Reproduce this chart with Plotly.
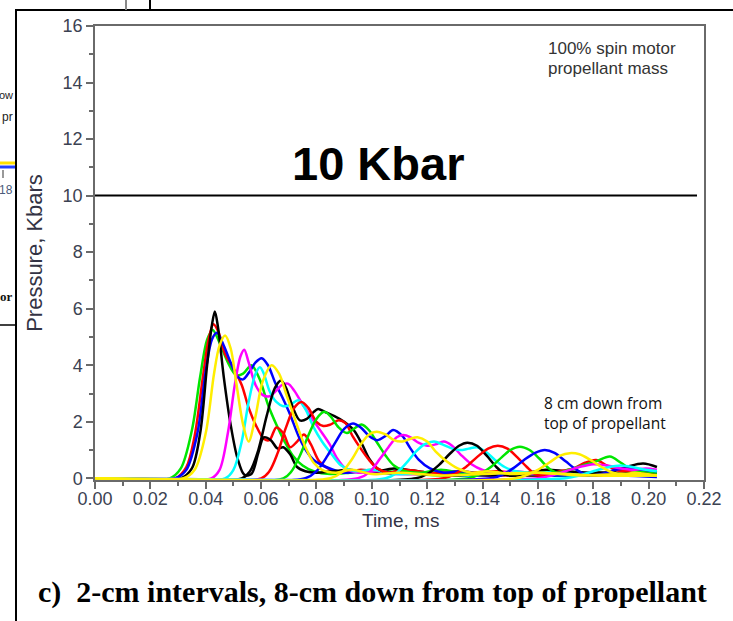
import plotly.graph_objects as go

# ---------------- data (time in ms, pressure in kbar) ----------------
g01_time = [0, 0.027, 0.031, 0.035, 0.038, 0.0405, 0.0425, 0.0450, 0.0480, 0.0510, 0.0535, 0.0565, 0.0595, 0.0625, 0.0655, 0.0685, 0.0715, 0.0750, 0.0790, 0.0850, 0.0920, 0.1000, 0.1100, 0.1250, 0.1400, 0.1600, 0.1800, 0.2030]
g01_kbar = [0, 0, 0.35, 1.7, 3.6, 4.9, 5.25, 4.8, 4.1, 3.65, 3.7, 4.0, 3.5, 2.6, 1.9, 1.3, 0.8, 0.45, 0.25, 0.15, 0.2, 0.3, 0.2, 0.1, 0.15, 0.1, 0.15, 0.1]

g02_time = [0, 0.029, 0.033, 0.036, 0.039, 0.041, 0.0428, 0.0445, 0.047, 0.050, 0.053, 0.0555, 0.058, 0.061, 0.063, 0.0655, 0.068, 0.0705, 0.073, 0.0755, 0.078, 0.081, 0.085, 0.090, 0.096, 0.105, 0.115, 0.130, 0.150, 0.170, 0.190, 0.203]
g02_kbar = [0, 0, 0.4, 1.5, 3.6, 4.9, 5.45, 5.2, 4.4, 3.9, 3.3, 2.5, 1.9, 1.4, 1.35, 1.8, 1.6, 1.1, 1.3, 1.55, 1.2, 0.6, 0.3, 0.2, 0.3, 0.2, 0.15, 0.25, 0.1, 0.15, 0.1, 0.1]

g03_time = [0, 0.031, 0.035, 0.038, 0.0405, 0.0422, 0.0433, 0.0445, 0.0465, 0.049, 0.0515, 0.054, 0.0565, 0.0590, 0.061, 0.0635, 0.066, 0.068, 0.0705, 0.073, 0.076, 0.080, 0.086, 0.092, 0.100, 0.108, 0.118, 0.130, 0.145, 0.160, 0.180, 0.203]
g03_kbar = [0, 0, 0.35, 1.6, 4.0, 5.4, 5.9, 5.3, 3.6, 1.9, 0.7, 0.12, 0.15, 0.9, 1.45, 1.35, 1.05, 1.1, 0.85, 0.4, 0.25, 0.2, 0.25, 0.3, 0.2, 0.35, 0.2, 0.1, 0.15, 0.1, 0.2, 0.15]

g04_time = [0, 0.029, 0.033, 0.037, 0.040, 0.0422, 0.044, 0.0465, 0.049, 0.0515, 0.0535, 0.056, 0.058, 0.0602, 0.0625, 0.065, 0.0675, 0.0705, 0.0735, 0.0765, 0.079, 0.0835, 0.090, 0.098, 0.108, 0.120, 0.135, 0.150, 0.170, 0.190, 0.203]
g04_kbar = [0, 0, 0.3, 1.6, 3.8, 4.9, 5.15, 4.7, 4.1, 3.6, 3.5, 3.8, 4.1, 4.25, 4.0, 3.4, 2.9, 2.25, 1.5, 0.95, 0.65, 0.4, 0.2, 0.25, 0.15, 0.2, 0.1, 0.15, 0.1, 0.1, 0.05]

g05_time = [0, 0.032, 0.036, 0.040, 0.043, 0.045, 0.047, 0.049, 0.051, 0.0535, 0.0555, 0.058, 0.0605, 0.0638, 0.0665, 0.069, 0.0715, 0.074, 0.0765, 0.079, 0.082, 0.087, 0.093, 0.100, 0.110, 0.125, 0.140, 0.160, 0.180, 0.203]
g05_kbar = [0, 0, 0.3, 1.6, 3.7, 4.7, 5.05, 4.6, 3.4, 1.9, 1.3, 2.2, 3.4, 4.0, 3.7, 3.0, 2.3, 1.6, 1.0, 0.55, 0.3, 0.2, 0.3, 0.15, 0.2, 0.1, 0.15, 0.2, 0.1, 0.1]

g06_time = [0, 0.042, 0.045, 0.048, 0.0505, 0.0525, 0.0539, 0.0555, 0.058, 0.0605, 0.063, 0.0655, 0.0675, 0.0697, 0.072, 0.0745, 0.0775, 0.081, 0.0848, 0.0875, 0.0905, 0.095, 0.102, 0.112, 0.125, 0.140, 0.160, 0.180, 0.203]
g06_kbar = [0, 0, 0.3, 1.6, 3.3, 4.3, 4.55, 4.1, 3.3, 2.95, 2.9, 3.1, 3.3, 3.35, 3.1, 2.7, 2.25, 1.75, 1.2, 0.7, 0.35, 0.2, 0.25, 0.15, 0.2, 0.1, 0.15, 0.1, 0.1]

g07_time = [0, 0.047, 0.050, 0.053, 0.0555, 0.058, 0.0596, 0.061, 0.063, 0.0655, 0.068, 0.0705, 0.0734, 0.076, 0.079, 0.082, 0.0855, 0.089, 0.094, 0.100, 0.110, 0.122, 0.135, 0.150, 0.170, 0.190, 0.203]
g07_kbar = [0, 0, 0.3, 1.3, 2.7, 3.7, 3.93, 3.7, 3.1, 2.7, 2.55, 2.6, 2.76, 2.45, 1.8, 1.3, 0.85, 0.45, 0.25, 0.3, 0.15, 0.2, 0.1, 0.15, 0.1, 0.15, 0.1]

g08_time = [0, 0.053, 0.056, 0.059, 0.062, 0.065, 0.0672, 0.069, 0.0715, 0.074, 0.0765, 0.079, 0.0806, 0.083, 0.0865, 0.090, 0.0935, 0.0965, 0.099, 0.102, 0.106, 0.112, 0.120, 0.130, 0.145, 0.160, 0.180, 0.203]
g08_kbar = [0, 0, 0.25, 1.0, 2.2, 3.2, 3.46, 3.2, 2.5, 2.05, 2.1, 2.35, 2.45, 2.35, 2.2, 2.0, 1.7, 1.2, 0.7, 0.35, 0.2, 0.3, 0.2, 0.15, 0.1, 0.2, 0.1, 0.1]

g09_time = [0, 0.060, 0.063, 0.066, 0.069, 0.072, 0.0746, 0.077, 0.080, 0.0825, 0.085, 0.088, 0.0905, 0.093, 0.096, 0.099, 0.102, 0.106, 0.112, 0.120, 0.130, 0.145, 0.160, 0.180, 0.203]
g09_kbar = [0, 0, 0.25, 0.9, 1.8, 2.5, 2.7, 2.5, 2.0, 1.85, 1.9, 2.05, 1.95, 1.5, 1.05, 0.65, 0.35, 0.2, 0.3, 0.2, 0.15, 0.25, 0.1, 0.15, 0.1]

g10_time = [0, 0.068, 0.071, 0.074, 0.077, 0.080, 0.0828, 0.085, 0.088, 0.091, 0.0935, 0.0963, 0.099, 0.102, 0.105, 0.108, 0.112, 0.118, 0.125, 0.135, 0.150, 0.165, 0.185, 0.203]
g10_kbar = [0, 0, 0.25, 0.8, 1.5, 2.1, 2.35, 2.2, 1.8, 1.6, 1.75, 1.9, 1.7, 1.25, 0.8, 0.45, 0.25, 0.2, 0.3, 0.15, 0.2, 0.1, 0.15, 0.1]

g11_time = [0, 0.076, 0.080, 0.084, 0.087, 0.090, 0.0932, 0.096, 0.099, 0.102, 0.105, 0.1077, 0.111, 0.114, 0.117, 0.121, 0.126, 0.132, 0.140, 0.150, 0.165, 0.185, 0.203]
g11_kbar = [0, 0, 0.25, 0.8, 1.3, 1.75, 1.94, 1.8, 1.5, 1.35, 1.5, 1.71, 1.5, 1.05, 0.65, 0.35, 0.2, 0.25, 0.15, 0.2, 0.1, 0.15, 0.1]

g12_time = [0, 0.085, 0.089, 0.093, 0.096, 0.099, 0.1017, 0.105, 0.108, 0.111, 0.114, 0.1165, 0.120, 0.123, 0.127, 0.131, 0.136, 0.142, 0.150, 0.160, 0.175, 0.190, 0.203]
g12_kbar = [0, 0, 0.2, 0.7, 1.2, 1.55, 1.65, 1.55, 1.35, 1.3, 1.4, 1.45, 1.3, 0.95, 0.6, 0.35, 0.2, 0.25, 0.15, 0.2, 0.1, 0.15, 0.1]

g13_time = [0, 0.095, 0.099, 0.103, 0.106, 0.109, 0.1113, 0.114, 0.117, 0.120, 0.123, 0.126, 0.129, 0.132, 0.136, 0.140, 0.145, 0.152, 0.160, 0.170, 0.185, 0.203]
g13_kbar = [0, 0, 0.2, 0.7, 1.1, 1.45, 1.53, 1.45, 1.25, 1.15, 1.2, 1.3, 1.15, 0.85, 0.5, 0.3, 0.2, 0.25, 0.15, 0.2, 0.1, 0.1]

g14_time = [0, 0.105, 0.109, 0.113, 0.116, 0.119, 0.1225, 0.1255, 0.129, 0.132, 0.135, 0.138, 0.141, 0.1445, 0.148, 0.152, 0.158, 0.165, 0.175, 0.190, 0.203]
g14_kbar = [0, 0, 0.2, 0.6, 0.95, 1.2, 1.3, 1.2, 1.05, 1.0, 1.05, 1.1, 0.95, 0.65, 0.4, 0.25, 0.2, 0.25, 0.15, 0.1, 0.1]

g15_time = [0, 0.116, 0.120, 0.124, 0.128, 0.1315, 0.1345, 0.138, 0.1415, 0.145, 0.1485, 0.152, 0.157, 0.163, 0.170, 0.178, 0.185, 0.192, 0.198, 0.203]
g15_kbar = [0, 0, 0.15, 0.45, 0.85, 1.15, 1.26, 1.15, 0.8, 0.4, 0.12, 0.1, 0.2, 0.3, 0.25, 0.2, 0.2, 0.4, 0.52, 0.4]

g16_time = [0, 0.126, 0.130, 0.134, 0.138, 0.142, 0.1455, 0.149, 0.1525, 0.156, 0.159, 0.163, 0.168, 0.173, 0.177, 0.181, 0.185, 0.190, 0.196, 0.203]
g16_kbar = [0, 0, 0.15, 0.4, 0.75, 1.05, 1.15, 1.05, 0.75, 0.4, 0.15, 0.1, 0.25, 0.35, 0.55, 0.65, 0.45, 0.25, 0.3, 0.2]

g17_time = [0, 0.135, 0.139, 0.143, 0.147, 0.150, 0.1535, 0.157, 0.1605, 0.164, 0.167, 0.171, 0.176, 0.181, 0.186, 0.190, 0.194, 0.199, 0.203]
g17_kbar = [0, 0, 0.15, 0.4, 0.75, 1.0, 1.12, 1.0, 0.7, 0.35, 0.2, 0.3, 0.45, 0.6, 0.77, 0.55, 0.3, 0.25, 0.2]

g18_time = [0, 0.143, 0.147, 0.151, 0.155, 0.159, 0.1625, 0.166, 0.170, 0.174, 0.178, 0.183, 0.188, 0.193, 0.198, 0.203]
g18_kbar = [0, 0, 0.12, 0.35, 0.65, 0.9, 1.0, 0.9, 0.6, 0.3, 0.1, 0.15, 0.3, 0.35, 0.3, 0.25]

g19_time = [0, 0.152, 0.156, 0.160, 0.164, 0.168, 0.1715, 0.175, 0.179, 0.183, 0.187, 0.191, 0.195, 0.199, 0.203]
g19_kbar = [0, 0, 0.12, 0.3, 0.55, 0.8, 0.89, 0.85, 0.65, 0.4, 0.2, 0.15, 0.2, 0.15, 0.1]

g20_time = [0, 0.160, 0.165, 0.170, 0.175, 0.180, 0.185, 0.190, 0.195, 0.199, 0.203]
g20_kbar = [0, 0, 0.1, 0.25, 0.4, 0.5, 0.45, 0.35, 0.3, 0.35, 0.3]

g21_time = [0, 0.170, 0.175, 0.180, 0.185, 0.190, 0.195, 0.199, 0.203]
g21_kbar = [0, 0, 0.1, 0.25, 0.38, 0.45, 0.38, 0.3, 0.25]

x_tick_values = [0.00, 0.02, 0.04, 0.06, 0.08, 0.10, 0.12, 0.14, 0.16, 0.18, 0.20, 0.22]
y_tick_values = [0, 2, 4, 6, 8, 10, 12, 14, 16]
threshold_kbar = 10

# ---------------- styles ----------------
BLACK, RED, GREEN, BLUE = "#000000", "#ff0000", "#00e600", "#0000ff"
YELLOW, MAGENTA, CYAN = "#ffee00", "#ff00ff", "#00ffff"

series = [
    (g01_time, g01_kbar, GREEN), (g02_time, g02_kbar, RED), (g04_time, g04_kbar, BLUE),
    (g03_time, g03_kbar, BLACK), (g06_time, g06_kbar, MAGENTA), (g07_time, g07_kbar, CYAN),
    (g08_time, g08_kbar, BLACK), (g09_time, g09_kbar, RED), (g10_time, g10_kbar, GREEN),
    (g11_time, g11_kbar, BLUE), (g13_time, g13_kbar, MAGENTA), (g14_time, g14_kbar, CYAN),
    (g15_time, g15_kbar, BLACK), (g16_time, g16_kbar, RED), (g17_time, g17_kbar, GREEN),
    (g18_time, g18_kbar, BLUE), (g20_time, g20_kbar, MAGENTA), (g21_time, g21_kbar, CYAN),
    (g12_time, g12_kbar, YELLOW), (g19_time, g19_kbar, YELLOW), (g05_time, g05_kbar, YELLOW),
]

W, H = 733, 621
L, R, T, B = 95, 704, 26, 480  # plot area in pixels


def px(x):
    return (x - L) / (R - L)


def py(y):
    return (B - y) / (B - T)


fig = go.Figure()
for t, p, c in series:
    fig.add_trace(go.Scatter(x=t, y=p, mode="lines",
                             line=dict(color=c, width=2.5, shape="spline", smoothing=0.9),
                             showlegend=False, hoverinfo="skip"))

AX = "#6a6a6a"
TICKFONT = dict(family="Liberation Sans, Arial", size=18, color="#3b4252")

fig.update_layout(
    width=W, height=H,
    margin=dict(l=L, r=W - R, t=T, b=H - B),
    paper_bgcolor="white", plot_bgcolor="white",
    showlegend=False,
    xaxis=dict(range=[0, 0.22], tickvals=x_tick_values, tickformat=".2f",
               ticks="outside", ticklen=7, tickwidth=1.5, tickcolor=AX,
               showline=True, linecolor=AX, linewidth=1.5, mirror=True,
               showgrid=False, zeroline=False,
               minor=dict(dtick=0.01, tick0=0, ticks="outside", ticklen=4, tickwidth=1.5,
                          tickcolor=AX, showgrid=False),
               tickfont=TICKFONT, ticklabelstandoff=-5),
    yaxis=dict(range=[-0.06, 16], tickvals=y_tick_values,
               ticks="outside", ticklen=7, tickwidth=1.5, tickcolor=AX,
               showline=True, linecolor=AX, linewidth=1.5, mirror=True,
               showgrid=False, zeroline=False,
               minor=dict(dtick=1, tick0=0, ticks="outside", ticklen=4, tickwidth=1.5,
                          tickcolor=AX, showgrid=False),
               tickfont=TICKFONT,
               title=dict(text="Pressure, Kbars", standoff=14,
                          font=dict(family="Liberation Sans, Arial", size=22, color="#333344"))),
)

shapes = [
    # 10 kbar threshold line
    dict(type="line", xref="paper", yref="y", x0=0, x1=px(697), y0=threshold_kbar, y1=threshold_kbar,
         line=dict(color="black", width=2)),
    # document frame
    dict(type="line", xref="paper", yref="paper", x0=px(16), x1=px(16), y0=py(10), y1=py(625),
         line=dict(color="black", width=2)),
    dict(type="line", xref="paper", yref="paper", x0=px(15), x1=px(735), y0=py(10), y1=py(10),
         line=dict(color="black", width=2)),
    dict(type="line", xref="paper", yref="paper", x0=px(126), x1=px(126), y0=py(-2), y1=py(10),
         line=dict(color="#888888", width=2)),
    dict(type="line", xref="paper", yref="paper", x0=px(150), x1=px(150), y0=py(-2), y1=py(10),
         line=dict(color="black", width=2)),
    dict(type="line", xref="paper", yref="paper", x0=px(-2), x1=px(16), y0=py(325), y1=py(325),
         line=dict(color="black", width=1.5)),
    # fragments of a neighbouring chart
    dict(type="line", xref="paper", yref="paper", x0=px(-2), x1=px(15), y0=py(163), y1=py(163),
         line=dict(color="#ffe000", width=3)),
    dict(type="line", xref="paper", yref="paper", x0=px(-2), x1=px(15), y0=py(167), y1=py(167),
         line=dict(color="#2040ff", width=3)),
    dict(type="line", xref="paper", yref="paper", x0=px(3), x1=px(3), y0=py(170), y1=py(178),
         line=dict(color="#777777", width=1.5)),
]
fig.update_layout(shapes=shapes)

annotations = [
    dict(text="Time, ms", x=px(400), y=py(520), xanchor="center", yanchor="middle",
         font=dict(family="Liberation Sans, Arial", size=19, color="#333344")),
    dict(text="<b>10 Kbar</b>", x=px(378), y=py(163), xanchor="center", yanchor="middle",
         font=dict(family="Liberation Sans, Arial", size=47, color="black")),
    dict(text="100% spin motor", x=px(546), y=py(48), xanchor="left", yanchor="middle",
         font=dict(family="Liberation Sans, Arial", size=17, color="#333333")),
    dict(text="propellant mass", x=px(546), y=py(68), xanchor="left", yanchor="middle",
         font=dict(family="Liberation Sans, Arial", size=17, color="#333333")),
    dict(text="8 cm down from", x=px(542), y=py(403), xanchor="left", yanchor="middle",
         font=dict(family="Open Sans, Lato, sans-serif", size=15.5, color="#111111")),
    dict(text="top of propellant", x=px(542), y=py(423), xanchor="left", yanchor="middle",
         font=dict(family="Open Sans, Lato, sans-serif", size=15.5, color="#111111")),
    dict(text="<b>c)\u00a0 2-cm intervals, 8-cm down from top of propellant</b>", x=px(36), y=py(592),
         xanchor="left", yanchor="middle",
         font=dict(family="Liberation Serif, Times New Roman, serif", size=30, color="black")),
    # fragments at the left edge
    dict(text="ow", x=px(15), y=py(95), xanchor="right", yanchor="middle",
         font=dict(family="Liberation Sans, Arial", size=11, color="#222222")),
    dict(text="pr", x=px(15), y=py(117), xanchor="right", yanchor="middle",
         font=dict(family="Liberation Sans, Arial", size=12, color="#222222")),
    dict(text="18", x=px(15), y=py(190), xanchor="right", yanchor="middle",
         font=dict(family="Liberation Sans, Arial", size=12, color="#4a5a7a")),
    dict(text="<b>or</b>", x=px(15), y=py(296), xanchor="right", yanchor="middle",
         font=dict(family="Liberation Serif, serif", size=13, color="#111111")),
]
for a in annotations:
    a.update(xref="paper", yref="paper", showarrow=False)
fig.update_layout(annotations=annotations)

fig.write_html("out.html", config={"displayModeBar": False},
               post_script="document.body.style.margin='0px';document.body.style.overflow='hidden';")
